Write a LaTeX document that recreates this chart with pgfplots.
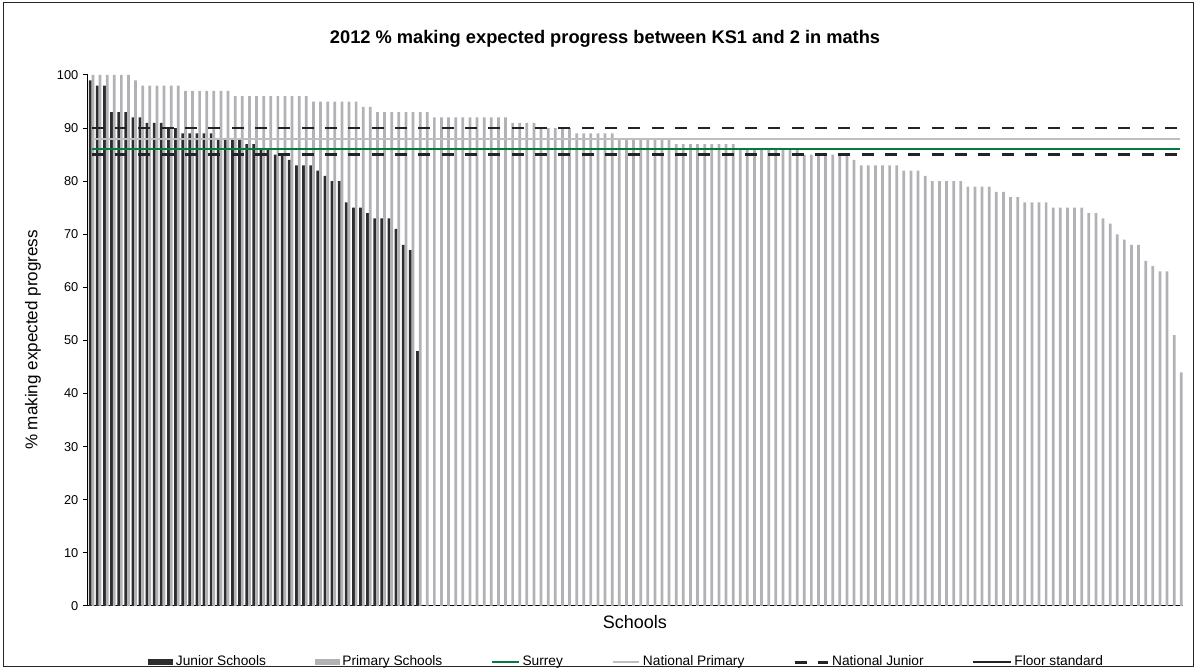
\documentclass[border=0pt]{standalone}
\usepackage{pgfplots}
\pgfplotsset{compat=1.18}
\usepackage{fontspec}
\setmainfont{Liberation Sans}
\definecolor{junior}{RGB}{45,45,48}
\definecolor{primary}{RGB}{178,178,182}
\definecolor{surrey}{RGB}{0,125,62}
\definecolor{natprim}{RGB}{190,190,194}
\definecolor{natjun}{RGB}{35,35,35}
\pgfplotsset{
  barleg/.style={legend image code/.code={\fill[##1] (0pt,-2.4pt) rectangle (18.75pt,2.4pt);}},
  lineleg/.style={legend image code/.code={\draw[##1] (0pt,0pt) -- (#1,0pt);}},
}
\begin{document}
\begin{tikzpicture}
\path[use as bounding box] (-66pt,-48pt) rectangle (831.75pt,454.5pt);
\draw[black!85, line width=0.75pt] (-63pt,-45.75pt) rectangle (828.75pt,452.25pt);
\begin{axis}[
  at={(0pt,0pt)}, anchor=south west,
  scale only axis, width=821.6pt, height=398.25pt,
  xmin=-0.5, xmax=153.5, ymin=0, ymax=100,
  axis lines*=left,
  axis line style={black, line width=0.75pt},
  xtick=\empty,
  ytick={0,10,...,100},
  tick align=outside,
  major tick length=3.75pt,
  ytick style={black, line width=0.75pt},
  /pgf/number format/assume math mode=true,
  ticklabel style={font=\fontsize{9.6}{11}\selectfont},
  title={2012 \% making expected progress between KS1 and 2 in maths},
  title style={at={(axis description cs:0.472,1.0527)}, anchor=center, font=\bfseries\fontsize{13.7}{15}\selectfont},
  xlabel={Schools},
  xlabel style={at={(axis description cs:0.4993,-0.0301)}, anchor=center, font=\fontsize{13.5}{15}\selectfont},
  ylabel={\% making expected progress},
  ylabel style={at={(axis description cs:-0.0502,0.501)}, anchor=center, font=\fontsize{12.8}{15}\selectfont},
  legend columns=6,
  legend style={at={(axis description cs:0.492,-0.1055)}, anchor=center, draw=none, fill=none,
    font=\fontsize{10.3}{12}\selectfont,
    /tikz/every even column/.append style={column sep=34.5pt}},
]
\addplot[ybar, bar width=2.05pt, bar shift=-1.025pt, fill=junior, draw=none, barleg] coordinates {
(0,99)(1,98)(2,98)(3,93)(4,93)(5,93)(6,92)(7,92)(8,91)(9,91)(10,91)(11,90)(12,90)(13,89)(14,89)(15,89)(16,89)(17,89)(18,88)(19,88)(20,88)(21,88)(22,87)(23,87)(24,86)(25,86)(26,85)(27,85)(28,84)(29,83)(30,83)(31,83)(32,82)(33,81)(34,80)(35,80)(36,76)(37,75)(38,75)(39,74)(40,73)(41,73)(42,73)(43,71)(44,68)(45,67)(46,48)
};
\addlegendentry{Junior Schools}
\addplot[ybar, bar width=2.05pt, bar shift=1.025pt, fill=primary, draw=none, barleg] coordinates {
(0,100)(1,100)(2,100)(3,100)(4,100)(5,100)(6,99)(7,98)(8,98)(9,98)(10,98)(11,98)(12,98)(13,97)(14,97)(15,97)(16,97)(17,97)(18,97)(19,97)(20,96)(21,96)(22,96)(23,96)(24,96)(25,96)(26,96)(27,96)(28,96)(29,96)(30,96)(31,95)(32,95)(33,95)(34,95)(35,95)(36,95)(37,95)(38,94)(39,94)(40,93)(41,93)(42,93)(43,93)(44,93)(45,93)(46,93)(47,93)(48,92)(49,92)(50,92)(51,92)(52,92)(53,92)(54,92)(55,92)(56,92)(57,92)(58,92)(59,91)(60,91)(61,91)(62,91)(63,90)(64,90)(65,90)(66,90)(67,90)(68,89)(69,89)(70,89)(71,89)(72,89)(73,89)(74,88)(75,88)(76,88)(77,88)(78,88)(79,88)(80,88)(81,88)(82,87)(83,87)(84,87)(85,87)(86,87)(87,87)(88,87)(89,87)(90,87)(91,86)(92,86)(93,86)(94,86)(95,86)(96,86)(97,86)(98,86)(99,86)(100,85)(101,85)(102,85)(103,85)(104,85)(105,85)(106,85)(107,84)(108,83)(109,83)(110,83)(111,83)(112,83)(113,83)(114,82)(115,82)(116,82)(117,81)(118,80)(119,80)(120,80)(121,80)(122,80)(123,79)(124,79)(125,79)(126,79)(127,78)(128,78)(129,77)(130,77)(131,76)(132,76)(133,76)(134,76)(135,75)(136,75)(137,75)(138,75)(139,75)(140,74)(141,74)(142,73)(143,72)(144,70)(145,69)(146,68)(147,68)(148,65)(149,64)(150,63)(151,63)(152,51)(153,44)
};
\addlegendentry{Primary Schools}
\addplot[surrey, line width=1.6pt, lineleg=20pt] coordinates {(0,86) (153,86)};
\addlegendentry{Surrey}
\addplot[natprim, line width=1.5pt, lineleg=20pt] coordinates {(0,88) (153,88)};
\addlegendentry{National Primary}
\addplot[natjun, line width=2.25pt, dash pattern=on 9pt off 8.5pt, lineleg=25pt] coordinates {(0,85) (153,85)};
\addlegendentry{National Junior}
\addplot[natjun, line width=1.5pt, dash pattern=on 9pt off 8.5pt,
  legend image code/.code={\draw[natjun, line width=1.5pt, solid] (0pt,0pt) -- (28pt,0pt);}] coordinates {(0,90) (153,90)};
\addlegendentry{Floor standard}
\end{axis}
\end{tikzpicture}
\end{document}
